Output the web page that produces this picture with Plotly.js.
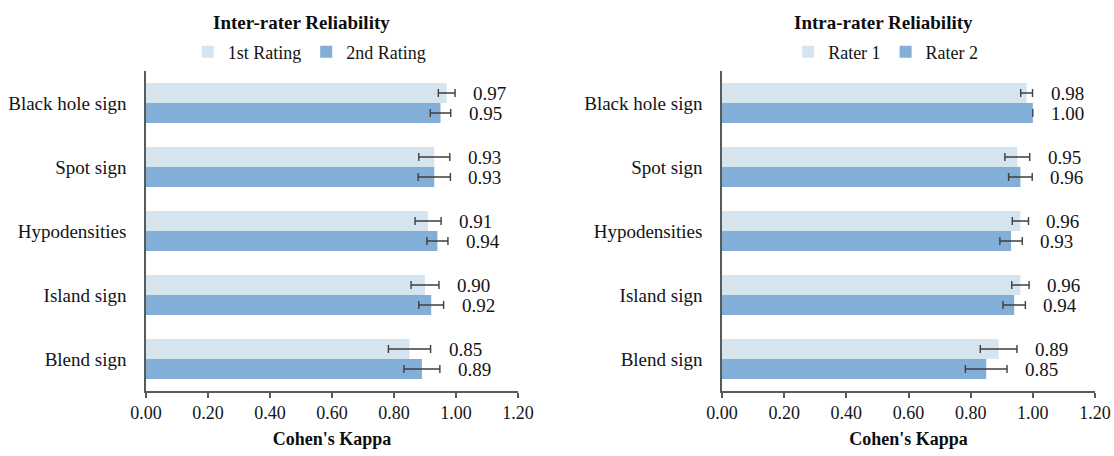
<!DOCTYPE html>
<html>
<head>
<meta charset="utf-8">
<script src="https://cdn.plot.ly/plotly-3.0.1.min.js"></script>
<style>html,body{margin:0;padding:0;background:#fff;}#chart{width:1114px;height:456px;}</style>
</head>
<body>
<div id="chart"></div>
<script>
// ---- Data ----
var categories = ["Black hole sign", "Spot sign", "Hypodensities", "Island sign", "Blend sign"];

var interTitle = "Inter-rater Reliability";
var interNames = ["1st Rating", "2nd Rating"];
var interFirst = [0.97, 0.93, 0.91, 0.90, 0.85];
var interFirstErr = [0.027, 0.050, 0.042, 0.045, 0.068];
var interSecond = [0.95, 0.93, 0.94, 0.92, 0.89];
var interSecondErr = [0.033, 0.052, 0.034, 0.040, 0.058];

var intraTitle = "Intra-rater Reliability";
var intraNames = ["Rater 1", "Rater 2"];
var intraFirst = [0.98, 0.95, 0.96, 0.96, 0.89];
var intraFirstErr = [0.019, 0.040, 0.026, 0.028, 0.059];
var intraSecond = [1.00, 0.96, 0.93, 0.94, 0.85];
var intraSecondErr = [0.000, 0.038, 0.036, 0.036, 0.067];

var xTickVals = [0, 0.2, 0.4, 0.6, 0.8, 1.0, 1.2];
var xTitle = "Cohen's Kappa";

// ---- Styles ----
var FONT = "Liberation Serif";
var LIGHT = "#d6e4f0";
var DARK = "#82aed7";
var ERRC = "#3f3f3f";
var AXC = "#5a5a5a";
var TXT = "#141414";

function barTrace(name, vals, errs, color, xa, ya, legend) {
  return {
    type: "bar", orientation: "h", name: name,
    x: vals, y: categories, xaxis: xa, yaxis: ya, legend: legend,
    marker: {color: color, line: {width: 0}},
    error_x: {type: "data", array: errs, visible: true, color: ERRC, thickness: 1.4, width: 4},
    hoverinfo: "x+y"
  };
}

var traces = [
  barTrace(interNames[0], interFirst, interFirstErr, LIGHT, "x", "y", "legend"),
  barTrace(interNames[1], interSecond, interSecondErr, DARK, "x", "y", "legend"),
  barTrace(intraNames[0], intraFirst, intraFirstErr, LIGHT, "x2", "y2", "legend2"),
  barTrace(intraNames[1], intraSecond, intraSecondErr, DARK, "x2", "y2", "legend2")
];

var BARGAP = 0.375;
var half = (1 - BARGAP) / 4; // offset of each bar center from category center

var annotations = [];
function addLabels(vals, errs, xref, yref, sign) {
  for (var i = 0; i < vals.length; i++) {
    annotations.push({
      x: vals[i] + errs[i], y: i + sign * half, xref: xref, yref: yref,
      text: vals[i].toFixed(2), showarrow: false, xanchor: "left", yanchor: "middle",
      xshift: 16, font: {family: FONT, size: 19, color: TXT}
    });
  }
}
addLabels(interFirst, interFirstErr, "x", "y", -1);
addLabels(interSecond, interSecondErr, "x", "y", 1);
addLabels(intraFirst, intraFirstErr, "x2", "y2", -1);
addLabels(intraSecond, intraSecondErr, "x2", "y2", 1);

annotations.push({text: "<b>" + interTitle + "</b>", xref: "paper", yref: "paper", x: 0.271, y: 1 - 22/456,
  xanchor: "center", yanchor: "middle", showarrow: false, font: {family: FONT, size: 19, color: "#0d0d0d"}});
annotations.push({text: "<b>" + intraTitle + "</b>", xref: "paper", yref: "paper", x: 0.793, y: 1 - 22/456,
  xanchor: "center", yanchor: "middle", showarrow: false, font: {family: FONT, size: 19, color: "#0d0d0d"}});

function xAxis(domain, anchor) {
  return {
    domain: domain, anchor: anchor, range: [0, 1.2], tickvals: xTickVals, tickformat: ".2f",
    showline: true, linecolor: AXC, linewidth: 1.5, ticks: "outside", ticklen: 5, tickcolor: AXC, tickwidth: 1.5,
    showgrid: false, zeroline: false, fixedrange: true,
    tickfont: {family: FONT, size: 18, color: TXT},
    title: {text: "<b>" + xTitle + "</b>", font: {family: FONT, size: 18, color: "#0d0d0d"}, standoff: 10}
  };
}
function yAxis(anchor) {
  return {
    domain: [1 - 391/456, 1 - 71/456], anchor: anchor, type: "category", autorange: "reversed",
    showline: true, linecolor: AXC, linewidth: 1.5, ticks: "", showgrid: false, zeroline: false,
    tickfont: {family: FONT, size: 19, color: TXT}, ticklabelstandoff: 14, fixedrange: true
  };
}

var layout = {
  width: 1114, height: 456,
  margin: {l: 0, r: 0, t: 0, b: 0},
  paper_bgcolor: "#fff", plot_bgcolor: "#fff",
  barmode: "group", bargap: BARGAP, bargroupgap: 0,
  showlegend: true,
  xaxis: xAxis([146/1114, 518/1114], "y"),
  yaxis: yAxis("x"),
  xaxis2: xAxis([722/1114, 1095/1114], "y2"),
  yaxis2: yAxis("x2"),
  legend: {orientation: "h", x: 0.278, y: 1 - 52/456, xanchor: "center", yanchor: "middle",
    font: {family: FONT, size: 18, color: TXT}, itemwidth: 30, bgcolor: "rgba(0,0,0,0)", traceorder: "normal"},
  legend2: {orientation: "h", x: 0.795, y: 1 - 52/456, xanchor: "center", yanchor: "middle",
    font: {family: FONT, size: 18, color: TXT}, itemwidth: 30, bgcolor: "rgba(0,0,0,0)", traceorder: "normal"},
  annotations: annotations
};

Plotly.newPlot("chart", traces, layout, {displayModeBar: false});
</script>
</body>
</html>
